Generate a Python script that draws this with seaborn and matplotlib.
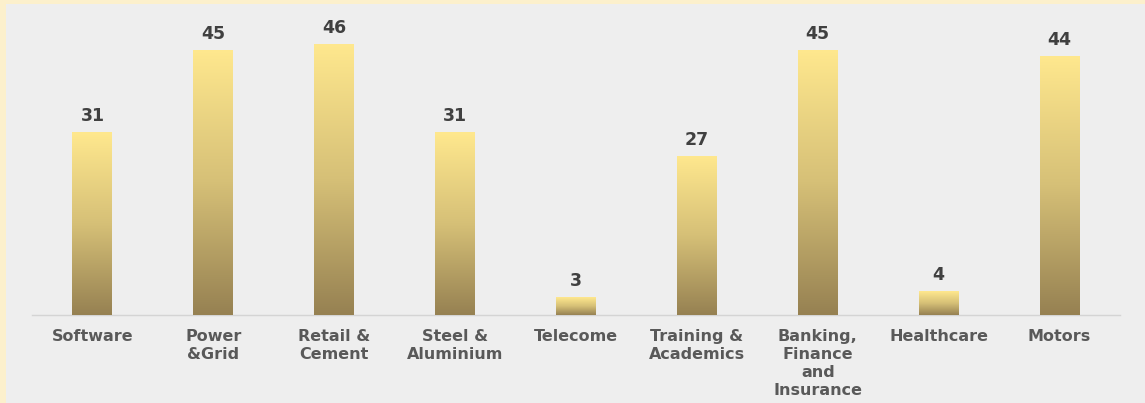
import numpy as np
import pandas as pd
import matplotlib
matplotlib.use("Agg")
import matplotlib.pyplot as plt
import seaborn as sns
from matplotlib.colors import LinearSegmentedColormap
from matplotlib.patches import Rectangle


sectors = [
    "Software", "Power\n&Grid", "Retail &\nCement", "Steel &\nAluminium",
    "Telecome", "Training &\nAcademics", "Banking,\nFinance\nand\nInsurance",
    "Healthcare", "Motors",
]
counts = [31, 45, 46, 31, 3, 27, 45, 4, 44]

BG_OUTER = "#FCF0CC"
BG_INNER = "#EEEEEE"
gold = LinearSegmentedColormap.from_list("gold", ["#968152", "#D6C077", "#FFE88E"])

df = pd.DataFrame({"sector": sectors, "count": counts})

sns.set_style("white")
plt.rcParams["font.family"] = ["DejaVu Sans"]

W, H = 1145, 403
fig = plt.figure(figsize=(W / 100, H / 100), dpi=100)
fig.patch.set_facecolor(BG_OUTER)

# inner gray panel (cream border only on top and left)
fig.patches.append(Rectangle((6 / W, 0), 1, 1 - 4 / H, transform=fig.transFigure,
                             facecolor=BG_INNER, edgecolor="none", zorder=-10))

ax = fig.add_axes([32 / W, (H - 315) / H, (1120 - 32) / W, (315 - 8) / H])
ax.set_facecolor("none")
ax.set_zorder(5)

sns.barplot(data=df, x="sector", y="count", color="#E0C878", width=0.33,
            ax=ax, zorder=2)

# vertical gold gradient on each bar, clipped to the bar shape
grad = np.linspace(0, 1, 256).reshape(-1, 1)
for bar in ax.patches:
    x0, y0 = bar.get_x(), bar.get_y()
    w, h = bar.get_width(), bar.get_height()
    im = ax.imshow(grad, cmap=gold, aspect="auto", origin="lower",
                   extent=[x0, x0 + w, y0, y0 + h], zorder=3)
    im.set_clip_path(bar)
    bar.set_edgecolor("none")

ax.set_xlim(-0.5, len(sectors) - 0.5)
ax.set_ylim(0, 52.1)

for i, v in enumerate(counts):
    ax.text(i, v + 1.2, str(v), ha="center", va="bottom", fontsize=12.5,
            fontweight="bold", color="#404040", zorder=4)

sns.despine(ax=ax, left=True, top=True, right=True)
ax.spines["bottom"].set_color("#D4D4D4")
ax.spines["bottom"].set_linewidth(1)
ax.set_yticks([])
ax.set_xlabel("")
ax.set_ylabel("")
ax.tick_params(axis="x", length=0, pad=10)
for lbl in ax.get_xticklabels():
    lbl.set_fontsize(11.5)
    lbl.set_fontweight("bold")
    lbl.set_color("#595959")
    lbl.set_linespacing(1.24)
    lbl.set_va("top")

fig.savefig("out.png", dpi=100, facecolor=fig.get_facecolor())
